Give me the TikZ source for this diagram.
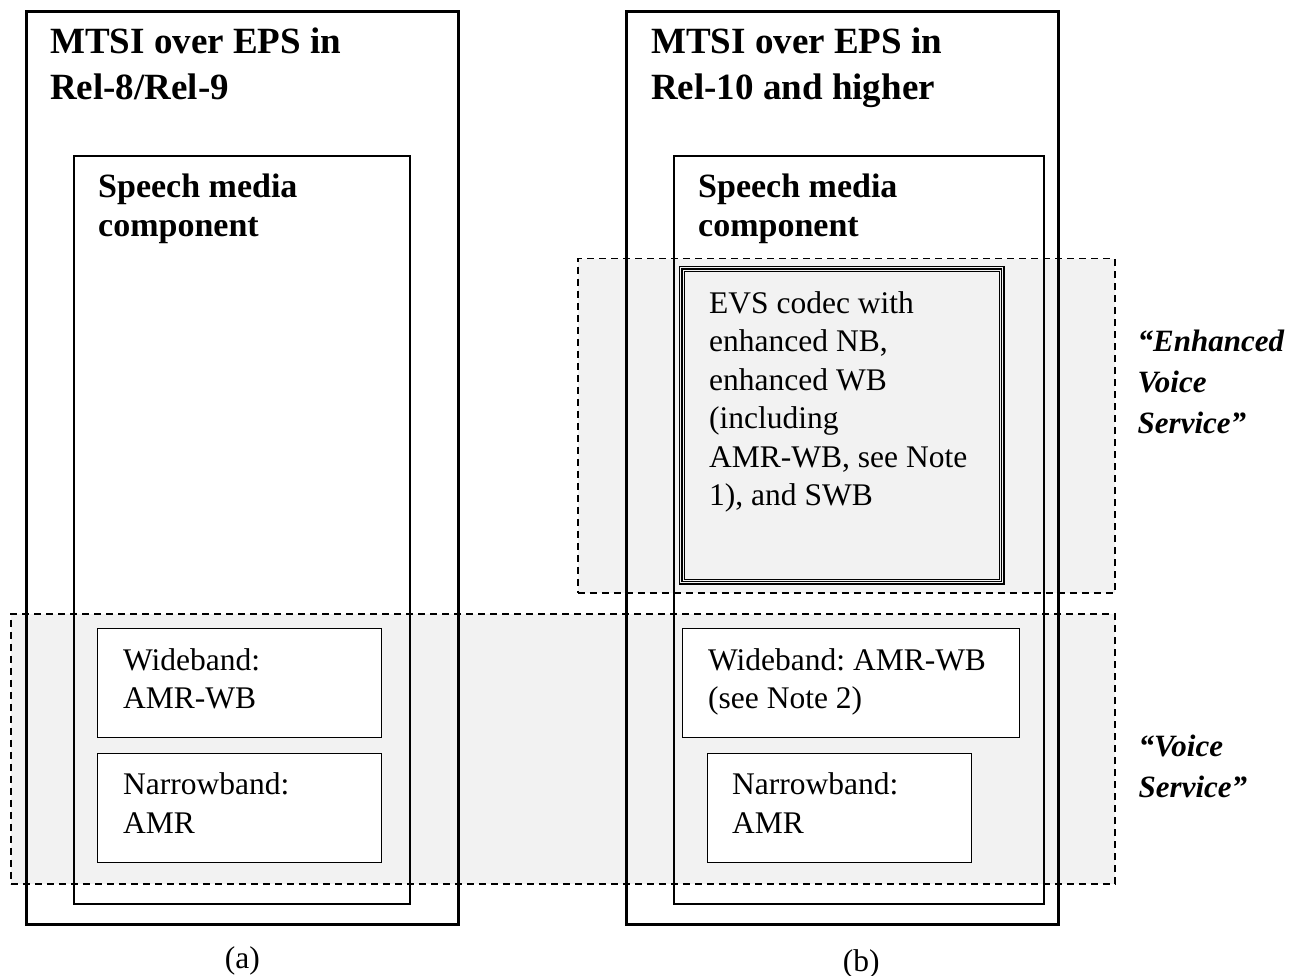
\documentclass[tikz,border=0pt]{standalone}
\usepackage{fontspec}
\setmainfont{Liberation Serif}
\usepackage{tikz}
\usetikzlibrary{positioning}
\definecolor{areagray}{HTML}{F2F2F2}
\frenchspacing

\begin{document}
\begin{tikzpicture}[x=1pt, y=-1pt,
  outerbox/.style={draw, line width=2.6pt, anchor=north west, inner sep=0pt},
  mediabox/.style={draw, line width=1.6pt, anchor=north west, inner sep=0pt},
  codecbox/.style={draw, fill=white, line width=1.4pt, anchor=north west, inner sep=0pt},
  evsbox/.style={draw, fill=areagray, double=areagray, double distance=1.3pt, line width=1.4pt, anchor=north west, inner sep=0pt},
  svcarea/.style={draw, fill=areagray, line width=1.5pt, dash pattern=on 7pt off 5pt, anchor=north west, inner sep=0pt},
  headtext/.style={inner sep=0pt, align=left, font=\fontsize{37}{46}\selectfont\bfseries},
  mediatext/.style={inner sep=0pt, align=left, font=\fontsize{34}{39}\selectfont\bfseries},
  bodytext/.style={inner sep=0pt, align=left, font=\fontsize{31.5}{38.5}\selectfont},
  svctext/.style={inner sep=0pt, align=left, font=\fontsize{31}{41}\selectfont\bfseries\itshape},
  capttext/.style={inner sep=0pt, font=\fontsize{31.5}{38.5}\selectfont}
]
  \useasboundingbox (0,0) rectangle (1303,976);

  % service areas
  \node[svcarea, minimum width=537pt, minimum height=334pt] (enharea) at (577,258) {};
  \node[svcarea, minimum width=1104pt, minimum height=270pt] (voicearea) at (10,613) {};

  % (a) Rel-8/Rel-9
  \node[outerbox, minimum width=432pt, minimum height=913pt] (relA) at (25,10) {};
  \node[mediabox, minimum width=336pt, minimum height=748pt] (mediaA) at (73,155) {};
  \node[codecbox, minimum width=284pt, minimum height=109pt] (wbA) at (97,628) {};
  \node[codecbox, minimum width=284pt, minimum height=109pt] (nbA) at (97,753) {};

  % (b) Rel-10 and higher
  \node[outerbox, minimum width=432pt, minimum height=913pt] (relB) at (625,10) {};
  \node[mediabox, minimum width=370pt, minimum height=748pt] (mediaB) at (673,155) {};
  \node[evsbox, minimum width=322pt, minimum height=315pt] (evs) at (680,267) {};
  \draw[line width=1pt] ([xshift=4.4pt,yshift=-4.4pt]evs.north west) rectangle ([xshift=-4.4pt,yshift=4.4pt]evs.south east);
  \node[codecbox, minimum width=337pt, minimum height=109pt] (wbB) at (682,628) {};
  \node[codecbox, minimum width=264pt, minimum height=109pt] (nbB) at (707,753) {};

  % texts
  \node[headtext, below right=18pt and 25pt of relA.north west] (headA) {MTSI over EPS in\\Rel-8/Rel-9};
  \node[headtext, below right=18pt and 26pt of relB.north west] (headB) {MTSI over EPS in\\Rel-10 and higher};
  \node[mediatext, below right=19pt and 25pt of mediaA.north west] (mediaAtext) {Speech media\\component};
  \node[mediatext, below right=19pt and 25pt of mediaB.north west] (mediaBtext) {Speech media\\component};
  \node[bodytext, below right=20pt and 26pt of wbA.north west] (wbAtext) {Wideband:\\AMR-WB};
  \node[bodytext, below right=19.5pt and 26pt of nbA.north west] (nbAtext) {Narrowband:\\AMR};
  \node[bodytext, below right=24pt and 29pt of evs.north west] (evstext)
    {EVS codec with\\enhanced NB,\\enhanced WB\\(including\\AMR-WB, see Note\\1), and SWB};
  \node[bodytext, below right=20pt and 26pt of wbB.north west] (wbBtext) {Wideband: AMR-WB\\(see Note 2)};
  \node[bodytext, below right=19.5pt and 25pt of nbB.north west] (nbBtext) {Narrowband:\\AMR};

  \node[svctext, below right=72pt and 22pt of enharea.north east] (enhlabel) {“Enhanced\\Voice\\Service”};
  \node[svctext, below right=122pt and 23pt of voicearea.north east] (voicelabel) {“Voice\\Service”};

  \node[capttext, below=21pt of relA] (captA) {(a)};
  \node[capttext, below=24pt of relB, xshift=19pt] (captB) {(b)};
\end{tikzpicture}
\end{document}
